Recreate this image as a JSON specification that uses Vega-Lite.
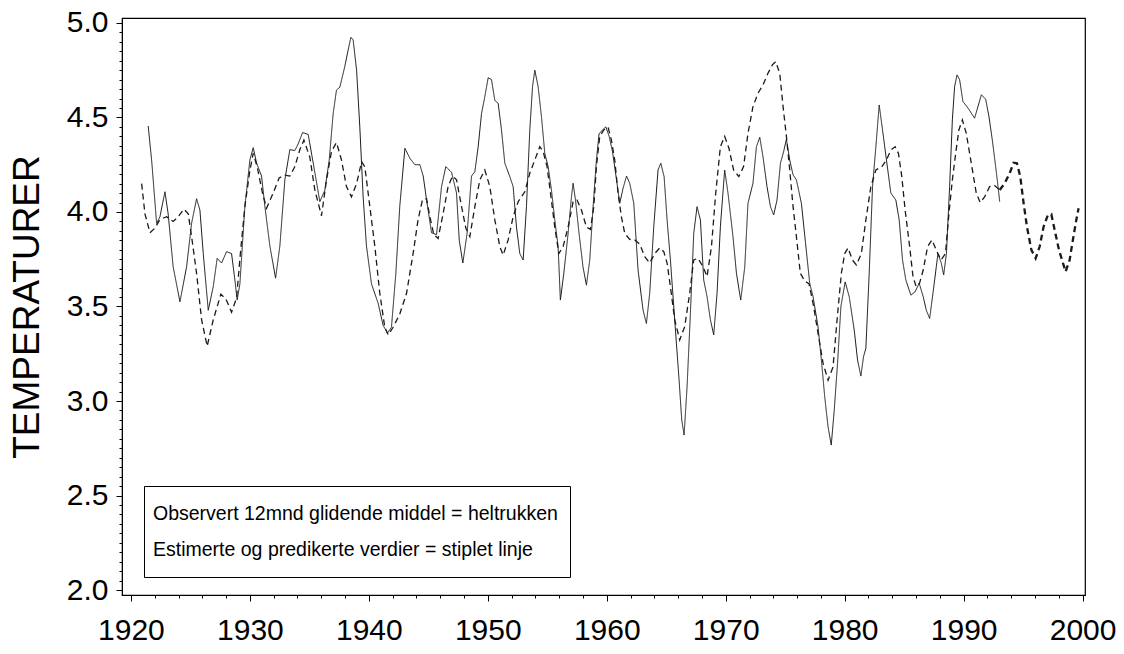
{
"$schema":"https://vega.github.io/schema/vega-lite/v6.json",
"width":963,"height":577,
"autosize":"none",
"padding":{"left":122,"top":18,"right":39,"bottom":59},
"background":"white",
"config":{"font":"Liberation Sans","view":{"stroke":"black","strokeWidth":1.2}},
"data":{"values":[
{"aar":1921.45,"temp":4.455,"serie":"obs"},{"aar":1921.74,"temp":4.275,"serie":"obs"},{"aar":1922.16,"temp":3.94,"serie":"obs"},{"aar":1922.44,"temp":3.975,"serie":"obs"},{"aar":1922.86,"temp":4.107,"serie":"obs"},{"aar":1923.13,"temp":3.99,"serie":"obs"},{"aar":1923.55,"temp":3.71,"serie":"obs"},{"aar":1924.12,"temp":3.525,"serie":"obs"},{"aar":1924.68,"temp":3.71,"serie":"obs"},{"aar":1925.1,"temp":3.94,"serie":"obs"},{"aar":1925.52,"temp":4.07,"serie":"obs"},{"aar":1925.8,"temp":4.01,"serie":"obs"},{"aar":1926.08,"temp":3.78,"serie":"obs"},{"aar":1926.5,"temp":3.48,"serie":"obs"},{"aar":1926.92,"temp":3.605,"serie":"obs"},{"aar":1927.25,"temp":3.755,"serie":"obs"},{"aar":1927.62,"temp":3.73,"serie":"obs"},{"aar":1928.04,"temp":3.79,"serie":"obs"},{"aar":1928.46,"temp":3.78,"serie":"obs"},{"aar":1928.74,"temp":3.64,"serie":"obs"},{"aar":1928.93,"temp":3.535,"serie":"obs"},{"aar":1929.16,"temp":3.62,"serie":"obs"},{"aar":1929.58,"temp":4.03,"serie":"obs"},{"aar":1930.0,"temp":4.275,"serie":"obs"},{"aar":1930.28,"temp":4.34,"serie":"obs"},{"aar":1930.56,"temp":4.26,"serie":"obs"},{"aar":1930.98,"temp":4.19,"serie":"obs"},{"aar":1931.26,"temp":4.03,"serie":"obs"},{"aar":1931.68,"temp":3.82,"serie":"obs"},{"aar":1932.16,"temp":3.65,"serie":"obs"},{"aar":1932.52,"temp":3.82,"serie":"obs"},{"aar":1932.94,"temp":4.17,"serie":"obs"},{"aar":1933.36,"temp":4.33,"serie":"obs"},{"aar":1933.78,"temp":4.325,"serie":"obs"},{"aar":1934.06,"temp":4.36,"serie":"obs"},{"aar":1934.43,"temp":4.42,"serie":"obs"},{"aar":1934.9,"temp":4.41,"serie":"obs"},{"aar":1935.32,"temp":4.26,"serie":"obs"},{"aar":1935.88,"temp":4.055,"serie":"obs"},{"aar":1936.3,"temp":4.115,"serie":"obs"},{"aar":1936.67,"temp":4.275,"serie":"obs"},{"aar":1937.0,"temp":4.52,"serie":"obs"},{"aar":1937.28,"temp":4.645,"serie":"obs"},{"aar":1937.56,"temp":4.66,"serie":"obs"},{"aar":1937.98,"temp":4.77,"serie":"obs"},{"aar":1938.26,"temp":4.857,"serie":"obs"},{"aar":1938.49,"temp":4.924,"serie":"obs"},{"aar":1938.68,"temp":4.91,"serie":"obs"},{"aar":1938.97,"temp":4.75,"serie":"obs"},{"aar":1939.24,"temp":4.45,"serie":"obs"},{"aar":1939.52,"temp":4.08,"serie":"obs"},{"aar":1939.8,"temp":3.82,"serie":"obs"},{"aar":1940.22,"temp":3.62,"serie":"obs"},{"aar":1940.78,"temp":3.517,"serie":"obs"},{"aar":1941.2,"temp":3.4,"serie":"obs"},{"aar":1941.57,"temp":3.36,"serie":"obs"},{"aar":1941.9,"temp":3.39,"serie":"obs"},{"aar":1942.27,"temp":3.675,"serie":"obs"},{"aar":1942.6,"temp":4.03,"serie":"obs"},{"aar":1943.03,"temp":4.337,"serie":"obs"},{"aar":1943.45,"temp":4.284,"serie":"obs"},{"aar":1943.87,"temp":4.25,"serie":"obs"},{"aar":1944.29,"temp":4.25,"serie":"obs"},{"aar":1944.57,"temp":4.19,"serie":"obs"},{"aar":1944.85,"temp":4.065,"serie":"obs"},{"aar":1945.27,"temp":3.89,"serie":"obs"},{"aar":1945.69,"temp":3.88,"serie":"obs"},{"aar":1946.11,"temp":4.134,"serie":"obs"},{"aar":1946.47,"temp":4.24,"serie":"obs"},{"aar":1946.95,"temp":4.21,"serie":"obs"},{"aar":1947.37,"temp":4.1,"serie":"obs"},{"aar":1947.6,"temp":3.85,"serie":"obs"},{"aar":1947.9,"temp":3.73,"serie":"obs"},{"aar":1948.26,"temp":3.887,"serie":"obs"},{"aar":1948.63,"temp":4.19,"serie":"obs"},{"aar":1948.91,"temp":4.213,"serie":"obs"},{"aar":1949.19,"temp":4.345,"serie":"obs"},{"aar":1949.47,"temp":4.52,"serie":"obs"},{"aar":1949.75,"temp":4.61,"serie":"obs"},{"aar":1950.03,"temp":4.71,"serie":"obs"},{"aar":1950.31,"temp":4.7,"serie":"obs"},{"aar":1950.59,"temp":4.59,"serie":"obs"},{"aar":1950.87,"temp":4.575,"serie":"obs"},{"aar":1951.15,"temp":4.434,"serie":"obs"},{"aar":1951.43,"temp":4.258,"serie":"obs"},{"aar":1951.85,"temp":4.187,"serie":"obs"},{"aar":1952.13,"temp":4.134,"serie":"obs"},{"aar":1952.41,"temp":3.92,"serie":"obs"},{"aar":1952.69,"temp":3.78,"serie":"obs"},{"aar":1952.97,"temp":3.746,"serie":"obs"},{"aar":1953.25,"temp":4.028,"serie":"obs"},{"aar":1953.53,"temp":4.434,"serie":"obs"},{"aar":1953.76,"temp":4.663,"serie":"obs"},{"aar":1953.95,"temp":4.75,"serie":"obs"},{"aar":1954.23,"temp":4.663,"serie":"obs"},{"aar":1954.51,"temp":4.504,"serie":"obs"},{"aar":1954.79,"temp":4.31,"serie":"obs"},{"aar":1955.07,"temp":4.24,"serie":"obs"},{"aar":1955.35,"temp":4.116,"serie":"obs"},{"aar":1955.63,"temp":3.958,"serie":"obs"},{"aar":1955.91,"temp":3.817,"serie":"obs"},{"aar":1956.1,"temp":3.534,"serie":"obs"},{"aar":1956.39,"temp":3.676,"serie":"obs"},{"aar":1956.75,"temp":3.887,"serie":"obs"},{"aar":1957.03,"temp":4.08,"serie":"obs"},{"aar":1957.17,"temp":4.152,"serie":"obs"},{"aar":1957.37,"temp":4.063,"serie":"obs"},{"aar":1957.67,"temp":3.887,"serie":"obs"},{"aar":1958.0,"temp":3.71,"serie":"obs"},{"aar":1958.29,"temp":3.613,"serie":"obs"},{"aar":1958.57,"temp":3.746,"serie":"obs"},{"aar":1958.85,"temp":4.028,"serie":"obs"},{"aar":1959.13,"temp":4.275,"serie":"obs"},{"aar":1959.35,"temp":4.413,"serie":"obs"},{"aar":1959.64,"temp":4.434,"serie":"obs"},{"aar":1959.92,"temp":4.45,"serie":"obs"},{"aar":1960.2,"temp":4.4,"serie":"obs"},{"aar":1960.48,"temp":4.32,"serie":"obs"},{"aar":1960.82,"temp":4.17,"serie":"obs"},{"aar":1961.09,"temp":4.046,"serie":"obs"},{"aar":1961.37,"temp":4.125,"serie":"obs"},{"aar":1961.66,"temp":4.19,"serie":"obs"},{"aar":1961.93,"temp":4.152,"serie":"obs"},{"aar":1962.27,"temp":4.046,"serie":"obs"},{"aar":1962.63,"temp":3.693,"serie":"obs"},{"aar":1963.05,"temp":3.481,"serie":"obs"},{"aar":1963.33,"temp":3.41,"serie":"obs"},{"aar":1963.61,"temp":3.57,"serie":"obs"},{"aar":1963.95,"temp":3.922,"serie":"obs"},{"aar":1964.31,"temp":4.222,"serie":"obs"},{"aar":1964.54,"temp":4.258,"serie":"obs"},{"aar":1964.82,"temp":4.187,"serie":"obs"},{"aar":1965.07,"temp":3.958,"serie":"obs"},{"aar":1965.35,"temp":3.746,"serie":"obs"},{"aar":1965.71,"temp":3.43,"serie":"obs"},{"aar":1966.08,"temp":3.11,"serie":"obs"},{"aar":1966.3,"temp":2.9,"serie":"obs"},{"aar":1966.5,"temp":2.82,"serie":"obs"},{"aar":1966.75,"temp":3.076,"serie":"obs"},{"aar":1967.03,"temp":3.464,"serie":"obs"},{"aar":1967.31,"temp":3.887,"serie":"obs"},{"aar":1967.59,"temp":4.028,"serie":"obs"},{"aar":1967.87,"temp":3.958,"serie":"obs"},{"aar":1968.15,"temp":3.64,"serie":"obs"},{"aar":1968.43,"temp":3.552,"serie":"obs"},{"aar":1968.71,"temp":3.43,"serie":"obs"},{"aar":1968.99,"temp":3.35,"serie":"obs"},{"aar":1969.27,"temp":3.57,"serie":"obs"},{"aar":1969.55,"temp":3.922,"serie":"obs"},{"aar":1969.91,"temp":4.222,"serie":"obs"},{"aar":1970.19,"temp":4.1,"serie":"obs"},{"aar":1970.61,"temp":3.87,"serie":"obs"},{"aar":1970.9,"temp":3.676,"serie":"obs"},{"aar":1971.26,"temp":3.534,"serie":"obs"},{"aar":1971.6,"temp":3.71,"serie":"obs"},{"aar":1971.87,"temp":4.046,"serie":"obs"},{"aar":1972.29,"temp":4.152,"serie":"obs"},{"aar":1972.58,"temp":4.345,"serie":"obs"},{"aar":1972.86,"temp":4.395,"serie":"obs"},{"aar":1973.13,"temp":4.293,"serie":"obs"},{"aar":1973.47,"temp":4.134,"serie":"obs"},{"aar":1973.76,"temp":4.028,"serie":"obs"},{"aar":1974.03,"temp":3.984,"serie":"obs"},{"aar":1974.31,"temp":4.063,"serie":"obs"},{"aar":1974.6,"temp":4.258,"serie":"obs"},{"aar":1974.87,"temp":4.32,"serie":"obs"},{"aar":1975.1,"temp":4.385,"serie":"obs"},{"aar":1975.38,"temp":4.275,"serie":"obs"},{"aar":1975.66,"temp":4.196,"serie":"obs"},{"aar":1975.94,"temp":4.17,"serie":"obs"},{"aar":1976.36,"temp":4.046,"serie":"obs"},{"aar":1976.7,"temp":3.84,"serie":"obs"},{"aar":1977.06,"temp":3.623,"serie":"obs"},{"aar":1977.34,"temp":3.552,"serie":"obs"},{"aar":1977.76,"temp":3.393,"serie":"obs"},{"aar":1978.04,"temp":3.217,"serie":"obs"},{"aar":1978.32,"temp":3.023,"serie":"obs"},{"aar":1978.6,"temp":2.864,"serie":"obs"},{"aar":1978.87,"temp":2.767,"serie":"obs"},{"aar":1979.12,"temp":2.95,"serie":"obs"},{"aar":1979.4,"temp":3.2,"serie":"obs"},{"aar":1979.68,"temp":3.5,"serie":"obs"},{"aar":1980.04,"temp":3.63,"serie":"obs"},{"aar":1980.38,"temp":3.552,"serie":"obs"},{"aar":1980.8,"temp":3.376,"serie":"obs"},{"aar":1981.08,"temp":3.217,"serie":"obs"},{"aar":1981.36,"temp":3.132,"serie":"obs"},{"aar":1981.58,"temp":3.234,"serie":"obs"},{"aar":1981.78,"temp":3.279,"serie":"obs"},{"aar":1982.06,"temp":3.676,"serie":"obs"},{"aar":1982.34,"temp":4.134,"serie":"obs"},{"aar":1982.62,"temp":4.345,"serie":"obs"},{"aar":1982.9,"temp":4.566,"serie":"obs"},{"aar":1983.18,"temp":4.434,"serie":"obs"},{"aar":1983.51,"temp":4.275,"serie":"obs"},{"aar":1983.88,"temp":4.1,"serie":"obs"},{"aar":1984.3,"temp":4.063,"serie":"obs"},{"aar":1984.58,"temp":3.958,"serie":"obs"},{"aar":1984.86,"temp":3.746,"serie":"obs"},{"aar":1985.14,"temp":3.64,"serie":"obs"},{"aar":1985.56,"temp":3.56,"serie":"obs"},{"aar":1985.92,"temp":3.578,"serie":"obs"},{"aar":1986.26,"temp":3.623,"serie":"obs"},{"aar":1986.6,"temp":3.552,"serie":"obs"},{"aar":1986.86,"temp":3.48,"serie":"obs"},{"aar":1987.14,"temp":3.437,"serie":"obs"},{"aar":1987.42,"temp":3.57,"serie":"obs"},{"aar":1987.7,"temp":3.71,"serie":"obs"},{"aar":1987.84,"temp":3.78,"serie":"obs"},{"aar":1988.12,"temp":3.729,"serie":"obs"},{"aar":1988.32,"temp":3.667,"serie":"obs"},{"aar":1988.55,"temp":3.78,"serie":"obs"},{"aar":1988.82,"temp":4.134,"serie":"obs"},{"aar":1989.05,"temp":4.487,"serie":"obs"},{"aar":1989.24,"temp":4.663,"serie":"obs"},{"aar":1989.44,"temp":4.725,"serie":"obs"},{"aar":1989.66,"temp":4.7,"serie":"obs"},{"aar":1989.94,"temp":4.584,"serie":"obs"},{"aar":1990.36,"temp":4.55,"serie":"obs"},{"aar":1990.92,"temp":4.496,"serie":"obs"},{"aar":1991.2,"temp":4.557,"serie":"obs"},{"aar":1991.49,"temp":4.62,"serie":"obs"},{"aar":1991.85,"temp":4.596,"serie":"obs"},{"aar":1992.13,"temp":4.504,"serie":"obs"},{"aar":1992.41,"temp":4.38,"serie":"obs"},{"aar":1992.69,"temp":4.24,"serie":"obs"},{"aar":1992.89,"temp":4.134,"serie":"obs"},{"aar":1993.03,"temp":4.054,"serie":"obs"},
{"aar":1920.9,"temp":4.15,"serie":"est"},{"aar":1921.18,"temp":3.99,"serie":"est"},{"aar":1921.6,"temp":3.89,"serie":"est"},{"aar":1922.02,"temp":3.915,"serie":"est"},{"aar":1922.44,"temp":3.96,"serie":"est"},{"aar":1923.0,"temp":3.975,"serie":"est"},{"aar":1923.55,"temp":3.95,"serie":"est"},{"aar":1923.97,"temp":3.975,"serie":"est"},{"aar":1924.45,"temp":4.015,"serie":"est"},{"aar":1924.82,"temp":3.99,"serie":"est"},{"aar":1925.1,"temp":3.87,"serie":"est"},{"aar":1925.52,"temp":3.675,"serie":"est"},{"aar":1925.94,"temp":3.43,"serie":"est"},{"aar":1926.41,"temp":3.29,"serie":"est"},{"aar":1926.92,"temp":3.43,"serie":"est"},{"aar":1927.56,"temp":3.565,"serie":"est"},{"aar":1927.98,"temp":3.54,"serie":"est"},{"aar":1928.46,"temp":3.47,"serie":"est"},{"aar":1928.88,"temp":3.545,"serie":"est"},{"aar":1929.2,"temp":3.78,"serie":"est"},{"aar":1929.58,"temp":4.03,"serie":"est"},{"aar":1930.0,"temp":4.22,"serie":"est"},{"aar":1930.28,"temp":4.31,"serie":"est"},{"aar":1930.61,"temp":4.24,"serie":"est"},{"aar":1931.06,"temp":4.1,"serie":"est"},{"aar":1931.4,"temp":4.02,"serie":"est"},{"aar":1931.96,"temp":4.1,"serie":"est"},{"aar":1932.46,"temp":4.18,"serie":"est"},{"aar":1932.94,"temp":4.195,"serie":"est"},{"aar":1933.36,"temp":4.19,"serie":"est"},{"aar":1933.78,"temp":4.24,"serie":"est"},{"aar":1934.2,"temp":4.33,"serie":"est"},{"aar":1934.54,"temp":4.38,"serie":"est"},{"aar":1935.04,"temp":4.29,"serie":"est"},{"aar":1935.46,"temp":4.116,"serie":"est"},{"aar":1936.02,"temp":3.98,"serie":"est"},{"aar":1936.44,"temp":4.17,"serie":"est"},{"aar":1936.86,"temp":4.32,"serie":"est"},{"aar":1937.28,"temp":4.367,"serie":"est"},{"aar":1937.7,"temp":4.275,"serie":"est"},{"aar":1938.12,"temp":4.134,"serie":"est"},{"aar":1938.54,"temp":4.08,"serie":"est"},{"aar":1938.97,"temp":4.15,"serie":"est"},{"aar":1939.39,"temp":4.266,"serie":"est"},{"aar":1939.66,"temp":4.24,"serie":"est"},{"aar":1940.08,"temp":4.03,"serie":"est"},{"aar":1940.5,"temp":3.82,"serie":"est"},{"aar":1940.92,"temp":3.57,"serie":"est"},{"aar":1941.34,"temp":3.39,"serie":"est"},{"aar":1941.62,"temp":3.35,"serie":"est"},{"aar":1942.04,"temp":3.39,"serie":"est"},{"aar":1942.6,"temp":3.46,"serie":"est"},{"aar":1943.17,"temp":3.57,"serie":"est"},{"aar":1943.72,"temp":3.78,"serie":"est"},{"aar":1944.14,"temp":3.96,"serie":"est"},{"aar":1944.51,"temp":4.065,"serie":"est"},{"aar":1944.85,"temp":4.07,"serie":"est"},{"aar":1945.13,"temp":3.975,"serie":"est"},{"aar":1945.46,"temp":3.88,"serie":"est"},{"aar":1945.82,"temp":3.86,"serie":"est"},{"aar":1946.24,"temp":3.99,"serie":"est"},{"aar":1946.66,"temp":4.134,"serie":"est"},{"aar":1947.03,"temp":4.19,"serie":"est"},{"aar":1947.37,"temp":4.17,"serie":"est"},{"aar":1947.79,"temp":4.03,"serie":"est"},{"aar":1948.15,"temp":3.915,"serie":"est"},{"aar":1948.49,"temp":3.87,"serie":"est"},{"aar":1948.91,"temp":4.028,"serie":"est"},{"aar":1949.33,"temp":4.17,"serie":"est"},{"aar":1949.75,"temp":4.222,"serie":"est"},{"aar":1950.17,"temp":4.134,"serie":"est"},{"aar":1950.59,"temp":3.958,"serie":"est"},{"aar":1951.01,"temp":3.817,"serie":"est"},{"aar":1951.29,"temp":3.772,"serie":"est"},{"aar":1951.71,"temp":3.852,"serie":"est"},{"aar":1952.13,"temp":3.975,"serie":"est"},{"aar":1952.55,"temp":4.054,"serie":"est"},{"aar":1953.11,"temp":4.107,"serie":"est"},{"aar":1953.53,"temp":4.205,"serie":"est"},{"aar":1953.95,"temp":4.275,"serie":"est"},{"aar":1954.37,"temp":4.345,"serie":"est"},{"aar":1954.65,"temp":4.32,"serie":"est"},{"aar":1954.98,"temp":4.24,"serie":"est"},{"aar":1955.27,"temp":4.1,"serie":"est"},{"aar":1955.63,"temp":3.92,"serie":"est"},{"aar":1955.97,"temp":3.78,"serie":"est"},{"aar":1956.33,"temp":3.817,"serie":"est"},{"aar":1956.75,"temp":3.92,"serie":"est"},{"aar":1957.17,"temp":4.054,"serie":"est"},{"aar":1957.5,"temp":4.063,"serie":"est"},{"aar":1957.87,"temp":4.01,"serie":"est"},{"aar":1958.29,"temp":3.92,"serie":"est"},{"aar":1958.63,"temp":3.908,"serie":"est"},{"aar":1958.91,"temp":4.028,"serie":"est"},{"aar":1959.13,"temp":4.24,"serie":"est"},{"aar":1959.41,"temp":4.4,"serie":"est"},{"aar":1959.75,"temp":4.434,"serie":"est"},{"aar":1960.11,"temp":4.448,"serie":"est"},{"aar":1960.39,"temp":4.38,"serie":"est"},{"aar":1960.67,"temp":4.275,"serie":"est"},{"aar":1960.95,"temp":4.1,"serie":"est"},{"aar":1961.23,"temp":3.975,"serie":"est"},{"aar":1961.51,"temp":3.887,"serie":"est"},{"aar":1961.93,"temp":3.855,"serie":"est"},{"aar":1962.35,"temp":3.852,"serie":"est"},{"aar":1962.77,"temp":3.83,"serie":"est"},{"aar":1963.19,"temp":3.764,"serie":"est"},{"aar":1963.61,"temp":3.73,"serie":"est"},{"aar":1964.03,"temp":3.78,"serie":"est"},{"aar":1964.45,"temp":3.81,"serie":"est"},{"aar":1964.79,"temp":3.79,"serie":"est"},{"aar":1965.07,"temp":3.73,"serie":"est"},{"aar":1965.35,"temp":3.605,"serie":"est"},{"aar":1965.71,"temp":3.43,"serie":"est"},{"aar":1966.13,"temp":3.323,"serie":"est"},{"aar":1966.55,"temp":3.393,"serie":"est"},{"aar":1966.97,"temp":3.57,"serie":"est"},{"aar":1967.31,"temp":3.746,"serie":"est"},{"aar":1967.67,"temp":3.755,"serie":"est"},{"aar":1968.09,"temp":3.71,"serie":"est"},{"aar":1968.43,"temp":3.658,"serie":"est"},{"aar":1968.8,"temp":3.817,"serie":"est"},{"aar":1969.16,"temp":4.1,"serie":"est"},{"aar":1969.55,"temp":4.345,"serie":"est"},{"aar":1969.91,"temp":4.4,"serie":"est"},{"aar":1970.27,"temp":4.337,"serie":"est"},{"aar":1970.66,"temp":4.222,"serie":"est"},{"aar":1971.1,"temp":4.187,"serie":"est"},{"aar":1971.5,"temp":4.24,"serie":"est"},{"aar":1971.87,"temp":4.416,"serie":"est"},{"aar":1972.29,"temp":4.557,"serie":"est"},{"aar":1972.71,"temp":4.628,"serie":"est"},{"aar":1973.13,"temp":4.672,"serie":"est"},{"aar":1973.55,"temp":4.734,"serie":"est"},{"aar":1973.92,"temp":4.778,"serie":"est"},{"aar":1974.2,"temp":4.795,"serie":"est"},{"aar":1974.54,"temp":4.734,"serie":"est"},{"aar":1974.82,"temp":4.557,"serie":"est"},{"aar":1975.1,"temp":4.4,"serie":"est"},{"aar":1975.38,"temp":4.222,"serie":"est"},{"aar":1975.66,"temp":4.028,"serie":"est"},{"aar":1975.94,"temp":3.87,"serie":"est"},{"aar":1976.27,"temp":3.676,"serie":"est"},{"aar":1976.64,"temp":3.635,"serie":"est"},{"aar":1977.0,"temp":3.62,"serie":"est"},{"aar":1977.34,"temp":3.517,"serie":"est"},{"aar":1977.76,"temp":3.358,"serie":"est"},{"aar":1978.18,"temp":3.2,"serie":"est"},{"aar":1978.6,"temp":3.11,"serie":"est"},{"aar":1979.02,"temp":3.18,"serie":"est"},{"aar":1979.36,"temp":3.43,"serie":"est"},{"aar":1979.72,"temp":3.676,"serie":"est"},{"aar":1980.0,"temp":3.78,"serie":"est"},{"aar":1980.28,"temp":3.81,"serie":"est"},{"aar":1980.65,"temp":3.746,"serie":"est"},{"aar":1980.98,"temp":3.72,"serie":"est"},{"aar":1981.4,"temp":3.78,"serie":"est"},{"aar":1981.78,"temp":3.958,"serie":"est"},{"aar":1982.2,"temp":4.134,"serie":"est"},{"aar":1982.62,"temp":4.222,"serie":"est"},{"aar":1983.13,"temp":4.24,"serie":"est"},{"aar":1983.51,"temp":4.275,"serie":"est"},{"aar":1983.88,"temp":4.328,"serie":"est"},{"aar":1984.24,"temp":4.345,"serie":"est"},{"aar":1984.52,"temp":4.31,"serie":"est"},{"aar":1984.8,"temp":4.187,"serie":"est"},{"aar":1985.08,"temp":4.01,"serie":"est"},{"aar":1985.46,"temp":3.817,"serie":"est"},{"aar":1985.74,"temp":3.658,"serie":"est"},{"aar":1986.01,"temp":3.605,"serie":"est"},{"aar":1986.29,"temp":3.623,"serie":"est"},{"aar":1986.6,"temp":3.693,"serie":"est"},{"aar":1986.97,"temp":3.817,"serie":"est"},{"aar":1987.34,"temp":3.852,"serie":"est"},{"aar":1987.68,"temp":3.8,"serie":"est"},{"aar":1988.1,"temp":3.746,"serie":"est"},{"aar":1988.47,"temp":3.78,"serie":"est"},{"aar":1988.76,"temp":3.99,"serie":"est"},{"aar":1989.05,"temp":4.17,"serie":"est"},{"aar":1989.33,"temp":4.31,"serie":"est"},{"aar":1989.6,"temp":4.434,"serie":"est"},{"aar":1989.89,"temp":4.487,"serie":"est"},{"aar":1990.22,"temp":4.416,"serie":"est"},{"aar":1990.64,"temp":4.258,"serie":"est"},{"aar":1991.06,"temp":4.1,"serie":"est"},{"aar":1991.39,"temp":4.05,"serie":"est"},{"aar":1991.76,"temp":4.08,"serie":"est"},{"aar":1992.18,"temp":4.134,"serie":"est"},{"aar":1992.6,"temp":4.14,"serie":"est"},{"aar":1993.03,"temp":4.116,"serie":"est"},
{"aar":1993.03,"temp":4.116,"serie":"pred"},{"aar":1993.45,"temp":4.152,"serie":"pred"},{"aar":1993.87,"temp":4.205,"serie":"pred"},{"aar":1994.2,"temp":4.26,"serie":"pred"},{"aar":1994.48,"temp":4.258,"serie":"pred"},{"aar":1994.76,"temp":4.187,"serie":"pred"},{"aar":1995.04,"temp":4.046,"serie":"pred"},{"aar":1995.32,"temp":3.922,"serie":"pred"},{"aar":1995.69,"temp":3.8,"serie":"pred"},{"aar":1996.05,"temp":3.755,"serie":"pred"},{"aar":1996.39,"temp":3.817,"serie":"pred"},{"aar":1996.72,"temp":3.922,"serie":"pred"},{"aar":1997.08,"temp":3.984,"serie":"pred"},{"aar":1997.37,"temp":3.988,"serie":"pred"},{"aar":1997.65,"temp":3.905,"serie":"pred"},{"aar":1998.01,"temp":3.8,"serie":"pred"},{"aar":1998.35,"temp":3.729,"serie":"pred"},{"aar":1998.57,"temp":3.684,"serie":"pred"},{"aar":1998.91,"temp":3.746,"serie":"pred"},{"aar":1999.18,"temp":3.852,"serie":"pred"},{"aar":1999.47,"temp":3.958,"serie":"pred"},{"aar":1999.66,"temp":4.02,"serie":"pred"}
]},
"mark":{"type":"line","color":"#1a1a1a","strokeCap":"butt"},
"encoding":{
"x":{"field":"aar","type":"quantitative","scale":{"domain":[1919.25,2000.2],"nice":false,"zero":false},
"axis":{"title":null,"values":[1920,1922,1924,1926,1928,1930,1932,1934,1936,1938,1940,1942,1944,1946,1948,1950,1952,1954,1956,1958,1960,1962,1964,1966,1968,1970,1972,1974,1976,1978,1980,1982,1984,1986,1988,1990,1992,1994,1996,1998,2000],
"format":"d","labelExpr":"datum.value % 10 == 0 ? datum.label : ''","labelOverlap":false,"labelFlush":false,
"labelFontSize":30,"labelColor":"black","labelPadding":14,"grid":false,"domainColor":"black","tickColor":"black",
"tickSize":{"condition":{"test":"datum.value % 10 == 0","value":6},"value":3}}},
"y":{"field":"temp","type":"quantitative","scale":{"domain":[1.974,5.026],"nice":false,"zero":false},
"axis":{"title":"TEMPERATURER","titleFontSize":37,"titleFontWeight":"normal","titleColor":"black","titlePadding":20,
"values":[2,2.05,2.1,2.15,2.2,2.25,2.3,2.35,2.4,2.45,2.5,2.55,2.6,2.65,2.7,2.75,2.8,2.85,2.9,2.95,3,3.05,3.1,3.15,3.2,3.25,3.3,3.35,3.4,3.45,3.5,3.55,3.6,3.65,3.7,3.75,3.8,3.85,3.9,3.95,4,4.05,4.1,4.15,4.2,4.25,4.3,4.35,4.4,4.45,4.5,4.55,4.6,4.65,4.7,4.75,4.8,4.85,4.9,4.95,5],
"labelExpr":"abs(datum.value*2 - round(datum.value*2)) < 0.001 ? format(datum.value, '.1f') : ''","labelOverlap":false,"labelFlush":false,
"labelFontSize":30,"labelColor":"black","labelPadding":8,"grid":false,"domainColor":"black","tickColor":"black",
"tickSize":{"condition":{"test":"abs(datum.value*2 - round(datum.value*2)) < 0.001","value":6},"value":3}}},
"strokeDash":{"field":"serie","type":"nominal","scale":{"domain":["obs","est","pred"],"range":[[1,0],[6,4],[6,4]]},
"legend":{"orient":"none","legendX":22,"legendY":468,"title":null,"values":["obs","est"],
"labelExpr":"datum.value == 'obs' ? 'Observert 12mnd glidende middel = heltrukken' : 'Estimerte og predikerte verdier = stiplet linje'",
"labelFontSize":19.5,"labelColor":"black","labelLimit":0,"symbolType":"circle","symbolOpacity":0,"symbolSize":900,"symbolStrokeWidth":0,
"labelOffset":-35,"rowPadding":5,"padding":12,"strokeColor":"black","fillColor":"white"}},
"strokeWidth":{"field":"serie","type":"nominal","scale":{"type":"ordinal","domain":["obs","est","pred"],"range":[1,1.3,2.3]},"legend":null}
}
}
